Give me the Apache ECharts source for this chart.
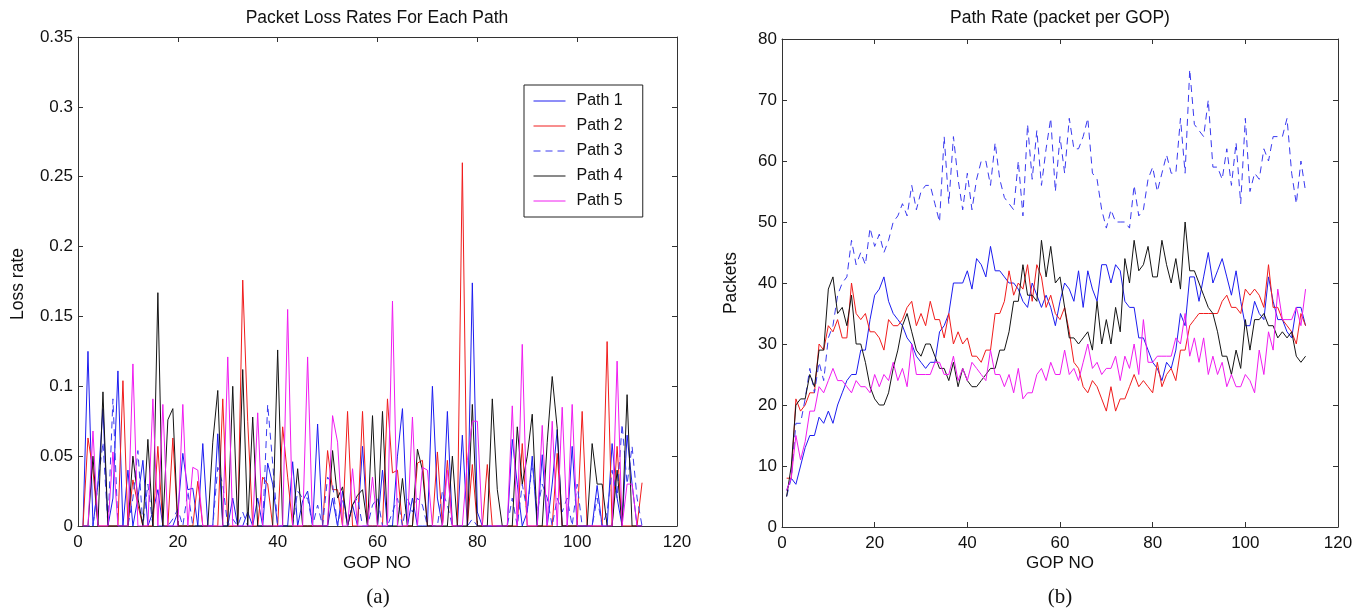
<!DOCTYPE html>
<html>
<head>
<meta charset="utf-8">
<script src="https://cdn.jsdelivr.net/npm/echarts@6/dist/echarts.min.js"></script>
<style>html,body{margin:0;padding:0;background:#fff}#c{width:1371px;height:614px}</style>
</head>
<body>
<div id="c"></div>
<script>
// GOP numbers (x categories)
const gop = [1,2,3,4,5,6,7,8,9,10,11,12,13,14,15,16,17,18,19,20,21,22,23,24,25,26,27,28,29,30,
31,32,33,34,35,36,37,38,39,40,41,42,43,44,45,46,47,48,49,50,51,52,53,54,55,56,57,58,59,60,
61,62,63,64,65,66,67,68,69,70,71,72,73,74,75,76,77,78,79,80,81,82,83,84,85,86,87,88,89,90,
91,92,93,94,95,96,97,98,99,100,101,102,103,104,105,106,107,108,109,110,111,112,113];
const pathNames = ['Path 1','Path 2','Path 3','Path 4','Path 5'];
const xTicks = [0,20,40,60,80,100,120];
const lossTicks = [0,0.05,0.1,0.15,0.2,0.25,0.3,0.35];
const rateTicks = [0,10,20,30,40,50,60,70,80];

// (a) packet loss rates
const loss1 = [0,0.125,0,0.03,0.084,0,0.02,0.111,0,0.04,
0,0.02,0.047,0,0.01,0.026,0,0,0,0.01,
0.052,0.026,0.027,0,0.059,0,0,0.066,0,0,
0.02,0,0,0.01,0,0.02,0,0.045,0.03,0,
0,0,0.046,0,0.018,0.025,0,0.073,0,0,
0.02,0,0.025,0,0.015,0,0.057,0,0,0,
0.04,0,0,0.05,0.084,0,0.02,0,0,0,
0.1,0.02,0,0.082,0,0,0.065,0,0.174,0.01,
0,0,0,0,0,0,0.062,0.03,0,0.01,
0.05,0,0.051,0,0.03,0.069,0,0,0.057,0,
0,0,0,0.029,0,0,0.059,0.02,0,0.065,
0.03,0,0];
const loss2 = [0,0.063,0.04,0,0,0,0,0,0.104,0,
0.033,0.015,0,0,0,0.057,0,0,0.063,0,
0,0,0,0.032,0,0,0,0,0.091,0,
0,0,0.176,0.075,0,0,0.035,0.03,0,0,
0.071,0.035,0,0,0,0,0,0,0,0.054,
0.026,0.026,0,0.082,0,0,0.082,0,0,0,
0,0.091,0.038,0.04,0,0,0,0.045,0.047,0,
0,0.053,0,0.047,0,0,0.26,0,0.044,0,
0,0.044,0,0,0,0,0,0,0.059,0,
0,0,0,0,0,0.052,0,0,0,0,
0.082,0,0,0,0,0.132,0,0.057,0,0,
0,0,0.031];
const loss3 = [0,0,0,0.03,0.06,0,0.091,0,0,0,
0.02,0.054,0,0.03,0,0,0,0,0.005,0.012,
0,0.025,0,0,0,0,0,0.042,0.03,0,
0.005,0,0.01,0,0,0,0,0.087,0.045,0,
0,0,0,0.025,0.02,0.02,0,0.015,0,0.035,
0.03,0,0.02,0,0.015,0.02,0,0,0.015,0.02,
0,0,0.01,0.02,0,0.02,0.01,0.02,0.015,0,
0,0,0.025,0.015,0,0,0,0,0.005,0,
0,0,0,0,0,0,0.02,0,0.03,0.01,
0.045,0.01,0.03,0.02,0,0.02,0.01,0.02,0,0.03,
0,0,0,0.02,0,0.01,0.04,0.02,0.073,0.03,
0.057,0.02,0];
const loss4 = [0,0,0.05,0,0.096,0,0,0,0,0,
0.05,0.02,0,0.062,0,0.167,0,0.076,0.084,0,
0,0,0,0,0,0,0.06,0.097,0,0,
0.1,0,0.112,0,0.078,0,0,0,0,0.126,
0,0,0,0.041,0,0,0,0,0,0,
0.054,0.02,0.028,0,0.015,0.022,0.026,0,0.079,0,
0.082,0,0,0,0.034,0,0,0.055,0.04,0,
0,0,0,0,0.05,0,0,0,0.087,0,
0,0,0.091,0.026,0,0,0,0.071,0.03,0.05,
0.08,0,0,0.06,0.107,0.07,0,0,0,0,
0,0,0.059,0.03,0.03,0,0,0.04,0,0.094,
0,0,0];
const loss5 = [0,0,0.068,0,0,0,0.053,0,0,0,
0.116,0,0,0,0.091,0,0.087,0,0,0,
0.087,0,0.042,0.04,0,0,0,0,0,0.121,
0,0,0,0,0,0.081,0,0,0,0,
0,0.155,0,0,0,0.121,0,0,0,0,
0.079,0.06,0,0,0.041,0,0,0,0.035,0,
0,0,0.161,0,0,0,0.078,0,0.042,0.04,
0,0,0,0.04,0,0,0,0.047,0.075,0.075,
0,0,0,0,0,0,0.086,0,0.13,0,
0,0,0.072,0,0.075,0,0.085,0,0.087,0,
0,0,0,0,0,0,0,0.118,0,0.03,
0.03,0,0];

// (b) path rates (packets per GOP)
const rate1 = [6,8,7,10,13,15,15,18,17,19,
17,20,22,24,25,25,29,29,34,38,
39,41,37,35,34,33,31,30,28,27,
26,27,27,32,33,35,40,40,40,42,
39,44,43,41,46,42,42,41,40,40,
39,37,36,40,38,36,38,36,33,37,
40,39,37,42,36,42,39,37,43,43,
40,43,42,37,36,36,31,31,29,27,
26,24,27,26,29,35,33,41,41,37,
41,45,40,42,44,41,38,42,37,33,
33,37,35,34,41,37,34,34,32,31,
36,36,33];
const rate2 = [8,8,21,19,20,22,22,30,29,33,
32,34,31,31,40,35,34,35,32,32,
31,29,34,33,33,34,36,37,33,35,
33,37,34,34,31,35,30,32,30,31,
28,28,27,29,29,35,35,37,42,38,
40,39,43,37,43,41,36,38,35,34,
36,32,27,26,23,22,24,23,21,19,
23,19,21,21,23,25,23,24,23,22,
27,23,25,26,24,29,29,33,34,35,
35,35,35,35,37,38,36,36,35,39,
38,39,38,36,43,36,36,34,33,32,
30,35,33];
const rate3 = [5,8,17,17,21,26,22,27,24,31,
33,38,40,41,47,43,45,43,49,46,
48,45,47,50,51,53,51,56,52,55,
56,56,53,50,64,53,64,57,52,58,
52,57,60,60,56,63,57,54,53,52,
60,51,66,57,65,56,62,67,55,64,
58,67,62,62,64,67,58,57,52,49,
52,50,50,50,49,56,51,52,57,59,
55,58,61,58,58,67,58,75,66,65,
64,70,59,59,57,62,56,63,53,67,
55,58,57,62,60,64,64,64,67,58,
53,60,55];
const rate4 = [5,10,20,21,21,25,23,29,29,39,
41,35,36,33,38,30,30,27,23,21,
20,20,22,26,29,33,35,32,29,28,
30,30,28,26,26,24,27,23,26,24,
23,23,24,25,26,26,29,29,32,37,
37,43,38,38,37,47,41,46,40,41,
36,31,31,30,31,32,29,37,30,34,
30,36,32,44,40,47,42,43,46,41,
41,47,43,40,44,39,50,42,42,40,
38,36,35,32,28,28,25,29,26,34,
29,34,34,35,33,33,31,32,31,32,
28,27,28];
const rate5 = [6,8,15,11,14,19,19,23,22,24,
26,24,24,23,22,24,23,23,22,25,
23,25,24,27,24,26,23,30,25,25,
25,25,27,27,25,25,28,24,26,24,
27,26,25,24,29,25,25,23,25,22,
26,21,22,22,25,26,24,27,25,25,
29,25,26,24,27,30,26,27,25,26,
26,28,24,28,26,30,25,34,27,27,
28,28,28,28,31,30,35,28,31,27,
31,25,28,25,27,23,25,23,23,25,
24,22,29,25,32,29,39,34,34,34,
36,33,39];

const colors = ['#1c1cf0','#f01c1c','#3a3af0','#141414','#f01cf0'];
const lineTypes = ['solid','solid',[7,5],'solid','solid'];
const lossSets = [loss1,loss2,loss3,loss4,loss5];
const rateSets = [rate1,rate2,rate3,rate4,rate5];

const FONT = 'Liberation Sans, Arial, sans-serif';
const axisColor = '#333';

function xAx(gi, pos, labels){
  return {type:'value', gridIndex:gi, position:pos, min:xTicks[0], max:xTicks[xTicks.length-1],
    interval:xTicks[1]-xTicks[0],
    axisLine:{show:true, onZero:false, lineStyle:{color:axisColor, width:1}},
    axisTick:{show:true, inside:true, length:5, lineStyle:{color:axisColor}},
    axisLabel:{show:labels, color:'#111', fontSize:17, fontFamily:FONT, margin:8},
    splitLine:{show:false}};
}
function yAx(gi, pos, labels, ticks){
  return {type:'value', gridIndex:gi, position:pos, min:ticks[0], max:ticks[ticks.length-1],
    interval:ticks[1]-ticks[0],
    axisLine:{show:true, onZero:false, lineStyle:{color:axisColor, width:1}},
    axisTick:{show:true, inside:true, length:5, lineStyle:{color:axisColor}},
    axisLabel:{show:labels, color:'#111', fontSize:17, fontFamily:FONT, margin:5},
    splitLine:{show:false}};
}

const series = [];
for (let k=0;k<5;k++){
  series.push({name:pathNames[k], type:'line', xAxisIndex:0, yAxisIndex:0, symbol:'none',
    data: gop.map((g,i)=>[g, lossSets[k][i]]),
    lineStyle:{color:colors[k], width:1, type:lineTypes[k]}, itemStyle:{color:colors[k]}, z:2+k});
}
for (let k=0;k<5;k++){
  series.push({name:pathNames[k], type:'line', xAxisIndex:2, yAxisIndex:2, symbol:'none',
    data: gop.map((g,i)=>[g, rateSets[k][i]]),
    lineStyle:{color:colors[k], width:1, type:lineTypes[k]}, itemStyle:{color:colors[k]}, z:2+k});
}

function txt(x,y,text,size,opts){
  opts = opts||{};
  return {type:'text', x:x, y:y, rotation:opts.rot||0, z:100,
    style:{text:text, fill:'#111', font:(opts.font||(size+'px '+FONT)), textAlign:'center', textVerticalAlign:'middle'}};
}

const option = {
  animation:false,
  backgroundColor:'#fff',
  grid:[{left:78, top:37, width:599, height:489},
        {left:782, top:39, width:556, height:488}],
  xAxis:[xAx(0,'bottom',true), xAx(0,'top',false), xAx(1,'bottom',true), xAx(1,'top',false)],
  yAxis:[yAx(0,'left',true,lossTicks), yAx(0,'right',false,lossTicks), yAx(1,'left',true,rateTicks), yAx(1,'right',false,rateTicks)],
  legend:{data:pathNames, orient:'vertical', left:524, top:85, padding:[8,20,8,9],
    itemWidth:32, itemHeight:14, itemGap:9, borderColor:'#222', borderWidth:1,
    backgroundColor:'#fff', selectedMode:false,
    itemStyle:{opacity:0, borderWidth:0},
    lineStyle:{width:1},
    textStyle:{fontSize:16, fontFamily:FONT, color:'#111', padding:[0,0,0,6]}},
  series:series,
  graphic:[
    txt(377,18,'Packet Loss Rates For Each Path',17.5),
    txt(1060,18,'Path Rate (packet per GOP)',17.5),
    txt(377,563,'GOP NO',17),
    txt(1060,563,'GOP NO',17),
    txt(18,284,'Loss rate',17.5,{rot:Math.PI/2}),
    txt(731,283,'Packets',17.5,{rot:Math.PI/2}),
    txt(378,597,'(a)',21,{font:'21px Liberation Serif, Times New Roman, serif'}),
    txt(1060,597,'(b)',21,{font:'21px Liberation Serif, Times New Roman, serif'})
  ]
};
const chart = echarts.init(document.getElementById('c'), null, {renderer:'canvas'});
chart.setOption(option);
</script>
</body>
</html>
